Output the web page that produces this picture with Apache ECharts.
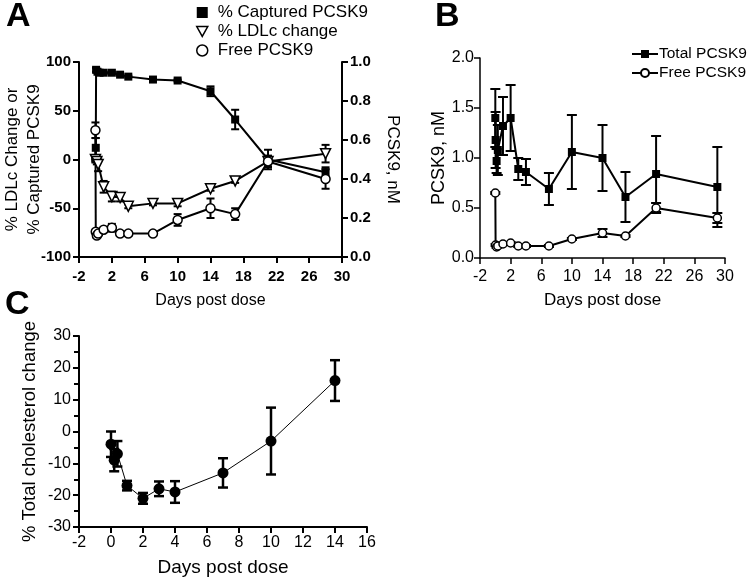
<!DOCTYPE html>
<html>
<head>
<meta charset="utf-8">
<script src="https://cdn.jsdelivr.net/npm/echarts@6/dist/echarts.min.js"></script>
<style>
  html, body { margin: 0; padding: 0; background: #fff; }
  #main { width: 749px; height: 581px; }
</style>
</head>
<body>
<div id="main"></div>
<script>
// panel A
var capDays = [0, 0.04, 0.08, 0.25, 0.5, 1, 2, 3, 4, 7, 10, 14, 17, 21, 28];
var capVals = [0, 12, 92, 90, 89, 89, 89, 87, 85, 82, 81, 70, 41, 0, -13];
var capErr  = [0, 10, 2, 1, 1, 1, 1, 1, 1, 1, 1, 5, 10, 10, 5];

var ldlDays = [0, 0.17, 0.33, 1, 2, 3, 4, 7, 10, 14, 17, 21, 28];
var ldlVals = [0, -2, -5, -28, -38, -39, -48, -45, -45, -30, -22, -2, 6];
var ldlErr  = [2, 3, 7, 6, 5, 4, 2, 2, 3, 2, 2, 5, 9];

var freeDays = [0, 0.04, 0.17, 0.33, 1, 2, 3, 4, 7, 10, 14, 17, 21, 28];
var freeVals = [0.65, 0.13, 0.11, 0.12, 0.14, 0.15, 0.12, 0.12, 0.12, 0.19, 0.25, 0.22, 0.49, 0.40];
var freeErr  = [0.04, 0.01, 0.01, 0.01, 0.01, 0.02, 0.01, 0.01, 0.01, 0.03, 0.05, 0.03, 0.03, 0.05];

// panel B
var totDays = [0, 0.04, 0.17, 0.33, 1, 2, 3, 4, 7, 10, 14, 17, 21, 29];
var totVals = [1.40, 1.18, 0.97, 1.08, 1.32, 1.40, 0.89, 0.86, 0.69, 1.06, 1.00, 0.61, 0.84, 0.71];
var totErr  = [0.29, 0.28, 0.12, 0.25, 0.29, 0.33, 0.11, 0.13, 0.16, 0.37, 0.33, 0.25, 0.38, 0.40];

var freeBDays = [0, 0.04, 0.17, 0.33, 1, 2, 3, 4, 7, 10, 14, 17, 21, 29];
var freeBVals = [0.65, 0.13, 0.11, 0.12, 0.14, 0.15, 0.12, 0.12, 0.12, 0.19, 0.25, 0.22, 0.50, 0.40];
var freeBErr  = [0.01, 0.01, 0.01, 0.01, 0.01, 0.01, 0.01, 0.01, 0.01, 0.01, 0.04, 0.01, 0.05, 0.05];

// panel C
var cDays = [0, 0.2, 0.4, 1, 2, 3, 4, 7, 10, 14];
var cVals = [-4, -9, -7, -17, -21, -18, -19, -13, -3, 16];
var cErr  = [4, 3.5, 4, 1.5, 1.7, 2.3, 3.4, 4.6, 10.5, 6.4];

var chart = echarts.init(document.getElementById('main'));

function pts(days, vals) {
    return days.map(function (d, i) { return [d, vals[i]]; });
}
function errPts(days, vals, err) {
    return days.map(function (d, i) { return [d, vals[i] - err[i], vals[i] + err[i]]; });
}
function errRender(capW, lw) {
    return function (params, api) {
        var x = api.value(0);
        var hi = api.coord([x, api.value(2)]);
        var lo = api.coord([x, api.value(1)]);
        var st = { stroke: '#000', lineWidth: lw, fill: null };
        return {
            type: 'group',
            children: [
                { type: 'line', shape: { x1: hi[0], y1: hi[1], x2: lo[0], y2: lo[1] }, style: st },
                { type: 'line', shape: { x1: hi[0] - capW / 2, y1: hi[1], x2: hi[0] + capW / 2, y2: hi[1] }, style: st },
                { type: 'line', shape: { x1: lo[0] - capW / 2, y1: lo[1], x2: lo[0] + capW / 2, y2: lo[1] }, style: st }
            ]
        };
    };
}
function errSeries(days, vals, err, xi, yi, capW, lw) {
    return {
        type: 'custom', xAxisIndex: xi, yAxisIndex: yi,
        renderItem: errRender(capW, lw),
        encode: { x: 0, y: [1, 2] },
        data: errPts(days, vals, err),
        z: 1, silent: true
    };
}

var black = '#000';
var boldLbl = { color: black, fontFamily: 'Liberation Sans', fontWeight: 'bold', fontSize: 15 };
var bLbl = { color: black, fontFamily: 'Liberation Sans', fontSize: 16 };
var plainLbl = { color: black, fontFamily: 'Liberation Sans', fontSize: 16 };
var nameFont = { color: black, fontFamily: 'Liberation Sans', fontSize: 17 };

function axLine(w) { return { show: true, onZero: false, lineStyle: { color: black, width: w } }; }
function ticks(w) { return { show: true, inside: false, length: 6, lineStyle: { color: black, width: w } }; }
var letter = { fontFamily: 'Liberation Sans', fontWeight: 'bold', fontSize: 34, color: black };

var option = {
    animation: false,
    backgroundColor: '#fff',
    title: [
        { text: 'A', left: 1, top: -5, textStyle: letter },
        { text: 'B', left: 430, top: -5, textStyle: letter },
        { text: 'C', left: 0, top: 283, textStyle: letter }
    ],
    legend: [{
        left: 191, top: -1, orient: 'vertical', itemGap: 2,
        itemWidth: 11, itemHeight: 11,
        textStyle: { color: black, fontFamily: 'Liberation Sans', fontSize: 17, padding: [0, 0, 0, 5] },
        data: [
            { name: '% Captured PCSK9', icon: 'rect', itemStyle: { color: black, borderWidth: 0 } },
            { name: '% LDLc change', icon: 'path://M0,0 L10,0 L5,9 Z', itemStyle: { color: '#fff', borderColor: black, borderWidth: 1.5 } },
            { name: 'Free PCSK9', icon: 'circle', itemStyle: { color: '#fff', borderColor: black, borderWidth: 1.5 } }
        ]
    }, {
        left: 626, top: 41, orient: 'vertical', itemGap: 3,
        itemWidth: 26, itemHeight: 10,
        textStyle: { color: black, fontFamily: 'Liberation Sans', fontSize: 15.5, padding: [0, 0, 0, -4] },
        formatter: function (n) { return n.replace(' (B)', ''); },
        data: ['Total PCSK9', 'Free PCSK9 (B)']
    }],
    grid: [
        { left: 79, top: 62, width: 263, height: 195, outerBoundsMode: 'none', containLabel: false },
        { left: 480, top: 58, width: 245, height: 200, outerBoundsMode: 'none', containLabel: false },
        { left: 79, top: 336, width: 288, height: 191, outerBoundsMode: 'none', containLabel: false }
    ],
    xAxis: [{
        gridIndex: 0, type: 'value', min: -2, max: 30, interval: 4,
        axisLine: axLine(2), axisTick: ticks(2), splitLine: { show: false },
        axisLabel: Object.assign({ margin: 12 }, boldLbl),
        name: 'Days post dose', nameLocation: 'middle', nameGap: 36, nameTextStyle: { color: black, fontFamily: 'Liberation Sans', fontSize: 16 }
    }, {
        gridIndex: 1, type: 'value', min: -2, max: 30, interval: 4,
        axisLine: axLine(1.5), axisTick: ticks(1.5), splitLine: { show: false },
        axisLabel: Object.assign({ margin: 11 }, bLbl),
        name: 'Days post dose', nameLocation: 'middle', nameGap: 34, nameTextStyle: nameFont
    }, {
        gridIndex: 2, type: 'value', min: -2, max: 16, interval: 2,
        axisLine: axLine(2), axisTick: ticks(2), splitLine: { show: false },
        axisLabel: Object.assign({ margin: 8 }, plainLbl),
        name: 'Days post dose', nameLocation: 'middle', nameGap: 31, nameTextStyle: { color: black, fontFamily: 'Liberation Sans', fontSize: 19 }
    }],
    yAxis: [{
        gridIndex: 0, type: 'value', min: -100, max: 100, interval: 50,
        axisLine: axLine(2), axisTick: ticks(2), splitLine: { show: false },
        axisLabel: Object.assign({ margin: 8 }, boldLbl),
        name: '% LDLc Change or\n% Captured PCSK9', nameLocation: 'middle', nameGap: 34,
        nameMoveOverlap: false,
        nameTextStyle: Object.assign({ lineHeight: 22 }, nameFont)
    }, {
        gridIndex: 0, type: 'value', position: 'right', min: 0, max: 1, interval: 0.2,
        axisLine: axLine(2), axisTick: ticks(2), splitLine: { show: false },
        axisLabel: Object.assign({ margin: 8, formatter: function (v) { return v.toFixed(1); } }, boldLbl),
        name: 'PCSK9, nM', nameLocation: 'middle', nameGap: 42, nameRotate: -90,
        nameTextStyle: nameFont
    }, {
        gridIndex: 1, type: 'value', min: 0, max: 2, interval: 0.5,
        axisLine: axLine(1.5), axisTick: ticks(1.5), splitLine: { show: false },
        axisLabel: Object.assign({ margin: 6, formatter: function (v) { return v.toFixed(1); } }, bLbl),
        name: 'PCSK9, nM', nameLocation: 'middle', nameGap: 26,
        nameTextStyle: { color: black, fontFamily: 'Liberation Sans', fontSize: 18 }
    }, {
        gridIndex: 2, type: 'value', min: -30, max: 30, interval: 10,
        axisLine: axLine(2), axisTick: ticks(2), splitLine: { show: false },
        minorTick: { show: true, splitNumber: 2, length: 5, lineStyle: { color: black, width: 2 } },
        axisLabel: Object.assign({ margin: 8 }, plainLbl),
        name: '% Total cholesterol change', nameLocation: 'middle', nameGap: 40,
        nameTextStyle: { color: black, fontFamily: 'Liberation Sans', fontSize: 18.5 }
    }],
    series: [
        errSeries(capDays, capVals, capErr, 0, 0, 8, 2),
        errSeries(ldlDays, ldlVals, ldlErr, 0, 0, 8, 2),
        errSeries(freeDays, freeVals, freeErr, 0, 1, 8, 2),
        {
            name: '% Captured PCSK9', type: 'line', xAxisIndex: 0, yAxisIndex: 0,
            data: pts(capDays, capVals), symbol: 'rect', symbolSize: 8,
            lineStyle: { color: black, width: 2 }, itemStyle: { color: black }, z: 3
        },
        {
            name: '% LDLc change', type: 'line', xAxisIndex: 0, yAxisIndex: 0,
            data: pts(ldlDays, ldlVals), symbol: 'triangle', symbolRotate: 180, symbolSize: 10,
            lineStyle: { color: black, width: 2 },
            itemStyle: { color: '#fff', borderColor: black, borderWidth: 1.5 }, z: 3
        },
        {
            name: 'Free PCSK9', type: 'line', xAxisIndex: 0, yAxisIndex: 1,
            data: pts(freeDays, freeVals), symbol: 'circle', symbolSize: 9,
            lineStyle: { color: black, width: 2 },
            itemStyle: { color: '#fff', borderColor: black, borderWidth: 1.5 }, z: 3
        },
        errSeries(totDays, totVals, totErr, 1, 2, 10, 2),
        errSeries(freeBDays, freeBVals, freeBErr, 1, 2, 10, 2),
        {
            name: 'Total PCSK9', type: 'line', xAxisIndex: 1, yAxisIndex: 2,
            data: pts(totDays, totVals), symbol: 'rect', symbolSize: 8,
            lineStyle: { color: black, width: 2 }, itemStyle: { color: black }, z: 3
        },
        {
            name: 'Free PCSK9 (B)', type: 'line', xAxisIndex: 1, yAxisIndex: 2,
            data: pts(freeBDays, freeBVals), symbol: 'circle', symbolSize: 8,
            lineStyle: { color: black, width: 2 },
            itemStyle: { color: '#fff', borderColor: black, borderWidth: 1.5 }, z: 3
        },
        errSeries(cDays, cVals, cErr, 2, 3, 10, 2.5),
        {
            name: 'Total cholesterol', type: 'line', xAxisIndex: 2, yAxisIndex: 3,
            data: pts(cDays, cVals), symbol: 'circle', symbolSize: 11,
            lineStyle: { color: black, width: 1 }, itemStyle: { color: black }, z: 3
        }
    ]
};

chart.setOption(option);
</script>
</body>
</html>
